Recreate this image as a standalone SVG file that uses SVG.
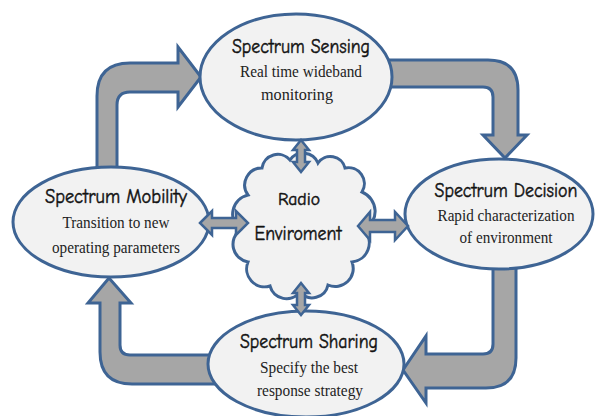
<svg xmlns="http://www.w3.org/2000/svg" width="598" height="416" viewBox="0 0 598 416">
<defs>
<style>
.blk{fill:#a6a6a6;stroke:#3e6494;stroke-width:3;stroke-linejoin:miter}
.sm{fill:#a6a6a6;stroke:#3e6494;stroke-width:2.5;stroke-linejoin:miter}
.node{fill:#f2f2f2;stroke:#3e6494;stroke-width:3}
.t{font-family:"Comic Sans MS","Comic Neue","DejaVu Sans",sans-serif;font-size:19.5px;fill:#111;stroke:#111;stroke-width:0.45;text-anchor:middle}
.s{font-family:"Liberation Serif","Times New Roman",serif;font-size:17.5px;fill:#222;text-anchor:middle}
</style>
</defs>
<rect width="598" height="416" fill="#ffffff"/>
<g id="connectors">
<path class="blk" d="M97,172 L97,96 Q97,63 130,63 L178,63 L178,47 L201,77 L178,107 L178,92 L130,92 Q117,92 117,105 L117,172 Z"/>
<path class="blk" d="M380,60 L488,60 Q518,60 518,90 L518,135 L527,135 L505,158 L483,135 L493,135 L493,97 Q493,87 483,87 L380,87 Z"/>
<path class="blk" d="M493,262 L493,344 Q493,354 483,354 L426,354 L426,336 L403,370 L426,403 L426,388 L486,388 Q516,388 516,358 L516,262 Z"/>
<path class="blk" d="M215,355 L130,355 Q120,355 120,345 L120,303 L131,303 L109,278 L88,303 L100,303 L100,352 Q100,384 132,384 L215,384 Z"/>
</g>
<g id="sensing">
<ellipse class="node" cx="296" cy="77" rx="96" ry="63"/>
<text class="t" x="301" y="53" textLength="138" lengthAdjust="spacingAndGlyphs">Spectrum Sensing</text>
<text class="s" x="301" y="77" textLength="122" lengthAdjust="spacingAndGlyphs">Real time wideband</text>
<text class="s" x="297" y="100" textLength="72" lengthAdjust="spacingAndGlyphs">monitoring</text>
</g>
<g id="decision">
<ellipse class="node" cx="499" cy="214" rx="94" ry="55"/>
<text class="t" x="506" y="197" textLength="143" lengthAdjust="spacingAndGlyphs">Spectrum Decision</text>
<text class="s" x="506" y="221" textLength="137" lengthAdjust="spacingAndGlyphs">Rapid characterization</text>
<text class="s" x="506" y="243" textLength="93" lengthAdjust="spacingAndGlyphs">of environment</text>
</g>
<g id="mobility">
<ellipse class="node" cx="111" cy="222" rx="98" ry="55"/>
<text class="t" x="116" y="203" textLength="142" lengthAdjust="spacingAndGlyphs">Spectrum Mobility</text>
<text class="s" x="116" y="228" textLength="107" lengthAdjust="spacingAndGlyphs">Transition to new</text>
<text class="s" x="116" y="253" textLength="128" lengthAdjust="spacingAndGlyphs">operating parameters</text>
</g>
<g id="sharing">
<ellipse class="node" cx="306" cy="364" rx="98" ry="53"/>
<text class="t" x="309" y="348" textLength="138" lengthAdjust="spacingAndGlyphs">Spectrum Sharing</text>
<text class="s" x="309" y="373" textLength="98" lengthAdjust="spacingAndGlyphs">Specify the best</text>
<text class="s" x="310" y="396" textLength="106" lengthAdjust="spacingAndGlyphs">response strategy</text>
</g>
<g id="radio">
<path class="node" d="M248,195 A17,17 0 0 1 262,168 A16,16 0 0 1 290,160 A16,16 0 0 1 318,163 A15,15 0 0 1 345,168 A16,16 0 0 1 362,192 A21,21 0 0 1 364,230 A19,19 0 0 1 352,262 A18,18 0 0 1 328,285 A16,16 0 0 1 300,292 A17,17 0 0 1 270,286 A18,18 0 0 1 248,262 A18,18 0 0 1 240,230 A20,20 0 0 1 248,195 Z"/>
<text class="t" x="299" y="205" style="font-size:17px" textLength="42" lengthAdjust="spacingAndGlyphs">Radio</text>
<text class="t" x="298" y="240" style="font-size:20px" textLength="87" lengthAdjust="spacingAndGlyphs">Enviroment</text>
</g>
<g id="links">
<polygon class="sm" points="301,140 309,150 305,150 305,162 309,162 301,172 293,162 297,162 297,150 293,150"/>
<polygon class="sm" points="200,223 212,211 212,218 236,218 236,211 248,223 236,235 236,228 212,228 212,235"/>
<polygon class="sm" points="358,226 370,212 370,220 395,220 395,212 408,226 395,240 395,232 370,232 370,240"/>
<polygon class="sm" points="301,283 309,293 305,293 305,305 309,305 301,315 293,305 297,305 297,293 293,293"/>
</g>
</svg>
